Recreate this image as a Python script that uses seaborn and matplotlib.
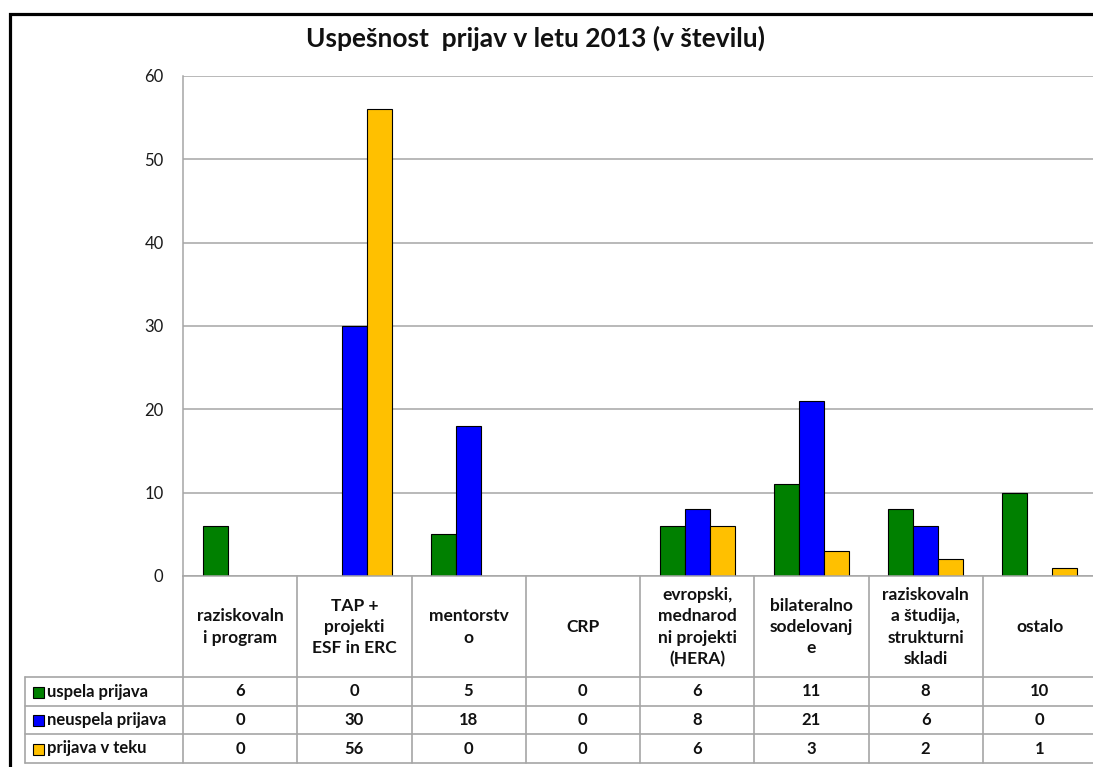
import matplotlib
matplotlib.use("Agg")
import matplotlib.pyplot as plt
import matplotlib.transforms as mtransforms
from matplotlib.lines import Line2D
from matplotlib.patches import Rectangle
import pandas as pd
import seaborn as sns

# podatki
kategorije = [
    "raziskovaln\ni program",
    "TAP +\nprojekti\nESF in ERC",
    "mentorstv\no",
    "CRP",
    "evropski,\nmednarod\nni projekti\n(HERA)",
    "bilateralno\nsodelovanj\ne",
    "raziskovaln\na študija,\nstrukturni\nskladi",
    "ostalo",
]
serije = ["uspela prijava", "neuspela prijava", "prijava v teku"]
uspela = [6, 0, 5, 0, 6, 11, 8, 10]
neuspela = [0, 30, 18, 0, 8, 21, 6, 0]
v_teku = [0, 56, 0, 0, 6, 3, 2, 1]
barve = ["#008000", "#0000FF", "#FFC000"]
y_ticks = [0, 10, 20, 30, 40, 50, 60]
naslov = "Uspešnost  prijav v letu 2013 (v številu)"

vrednosti = [uspela, neuspela, v_teku]
df = pd.DataFrame({
    "kategorija": [k for _ in serije for k in kategorije],
    "serija": [s for s in serije for _ in kategorije],
    "vrednost": [v for vals in vrednosti for v in vals],
})

sns.set_theme(style="white")
plt.rcParams["font.family"] = ["Lato", "DejaVu Sans"]

W, H = 1093, 767
fig = plt.figure(figsize=(W / 100, H / 100), dpi=100)
fig.patch.set_facecolor("white")


def fx(px):
    return px / W


def fy(py):
    return 1 - py / H


ax = fig.add_axes([fx(183), fy(576), (1097 - 183) / W, 500 / H])
sns.barplot(data=df, x="kategorija", y="vrednost", hue="serija",
            palette=barve, saturation=1, width=0.656, edgecolor="black",
            linewidth=0.8, legend=False, ax=ax)
for p in ax.patches:
    if p.get_height() == 0:
        p.set_linewidth(0)

ax.set_xlim(-0.5, len(kategorije) - 0.5)
ax.set_ylim(0, 60)
ax.set_yticks(y_ticks)
ax.set_xticks([])
ax.set_xlabel("")
ax.set_ylabel("")
ax.tick_params(axis="y", length=0, pad=14, labelsize=12, labelcolor="#1a1a1a")
ax.yaxis.grid(True, color="#a6a6a6", linewidth=1.1)
ax.set_axisbelow(True)
for s in ["top", "right"]:
    ax.spines[s].set_visible(False)
ax.spines["left"].set_color("#a6a6a6")
ax.spines["left"].set_linewidth(1.1)
ax.spines["bottom"].set_color("#a6a6a6")
ax.spines["bottom"].set_linewidth(1.1)

fig.text(fx(535), fy(38), naslov, ha="center", va="center",
         fontsize=19, fontweight="bold", color="#111111")

# tabela s podatki
tr = mtransforms.blended_transform_factory(ax.transData, fig.transFigure)
lc = "#a6a6a6"
lw = 1.2
for k in range(len(kategorije) + 1):
    fig.add_artist(Line2D([k - 0.5, k - 0.5], [fy(576), fy(763)],
                          transform=tr, color=lc, lw=lw))
fig.add_artist(Line2D([fx(25), fx(25)], [fy(677), fy(763)],
                      transform=fig.transFigure, color=lc, lw=lw))
for ry in [677, 706, 734, 763]:
    fig.add_artist(Line2D([fx(25), fx(1100)], [fy(ry), fy(ry)],
                          transform=fig.transFigure, color=lc, lw=lw))

for i, k in enumerate(kategorije):
    fig.text(i, fy(627), k, transform=tr, ha="center", va="center",
             fontsize=12.5, fontweight="bold", linespacing=1.42,
             color="#111111")

vrstice_y = [691.5, 720, 748.5]
for s, vals, c, ry in zip(serije, vrednosti, barve, vrstice_y):
    fig.patches.append(Rectangle((fx(33), fy(ry + 6)), 11 / W, 11 / H,
                                 transform=fig.transFigure, facecolor=c,
                                 edgecolor="black", linewidth=0.8))
    fig.text(fx(47), fy(ry), s, ha="left", va="center", fontsize=12,
             fontweight="bold", color="#111111")
    for i, v in enumerate(vals):
        fig.text(i, fy(ry), str(v), transform=tr, ha="center", va="center",
                 fontsize=12, fontweight="bold", color="#111111")

# okvir grafikona
fig.add_artist(Line2D([fx(10), fx(10), fx(1100)], [fy(800), fy(14), fy(14)],
                      transform=fig.transFigure, color="black", lw=2.3,
                      solid_joinstyle="miter"))

fig.savefig("out.png", dpi=100)
